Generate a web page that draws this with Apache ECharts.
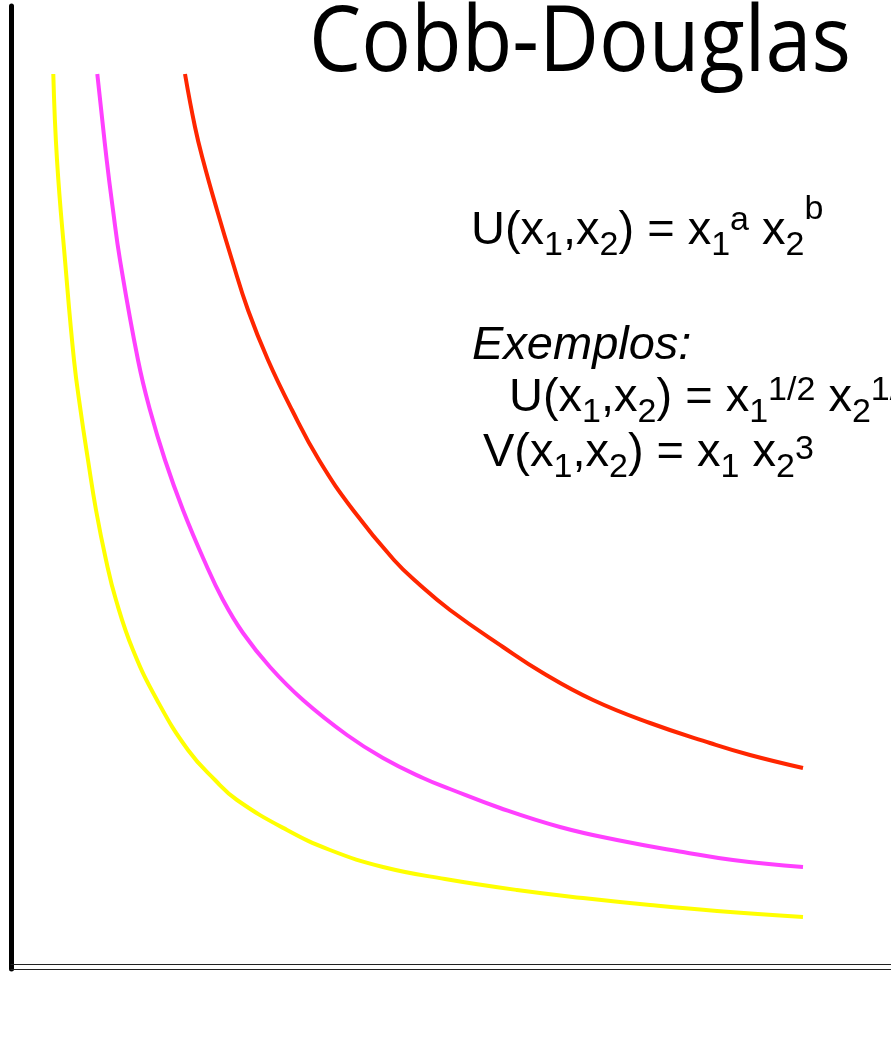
<!DOCTYPE html>
<html>
<head>
<meta charset="utf-8">
<script src="https://cdn.jsdelivr.net/npm/echarts@6/dist/echarts.min.js"></script>
<style>
  html, body { margin: 0; padding: 0; background: #fff; }
  #chart { width: 891px; height: 1058px; }
</style>
</head>
<body>
<div id="chart"></div>
<script>
// Indifference curves (x1, x2) for three utility levels, lowest to highest
const lowCurve = [
  [4.23, 89.5], [4.6, 80.9], [5.4, 70.9], [6.3, 60.9], [6.95, 55.9], [7.7, 50.9],
  [8.5, 45.9], [9.5, 40.9], [10.5, 36.9], [12.2, 31.9], [14.6, 26.9], [17.7, 21.9],
  [20.4, 18.9], [22.6, 16.9], [27.6, 13.9], [31.9, 11.9], [37.2, 10.2], [43.4, 9.0],
  [50.6, 7.9], [57.2, 7.1], [63.9, 6.4], [70.6, 5.8], [79.2, 5.2]
];
const midCurve = [
  [8.63, 89.5], [9.57, 80.9], [10.2, 75.9], [10.9, 70.9], [12.7, 60.9], [13.9, 55.9],
  [15.4, 50.9], [17.2, 45.9], [19.3, 40.9], [21.2, 36.9], [23.2, 33.6], [25.9, 30.2],
  [29.2, 26.9], [33.6, 23.4], [37.2, 21.1], [41.2, 19.1], [43.9, 18.0], [48.9, 16.1],
  [54.9, 14.2], [60.6, 12.9], [67.2, 11.7], [72.2, 10.9], [79.2, 10.2]
];
const highCurve = [
  [17.4, 89.5], [18.4, 84.2], [19.2, 80.9], [20.6, 75.9], [22.1, 70.9], [23.7, 65.9],
  [25.7, 60.9], [28.1, 55.9], [30.8, 50.9], [34.2, 45.9], [38.3, 40.9], [40.9, 38.4],
  [43.9, 35.9], [49.2, 32.2], [53.2, 29.6], [58.2, 26.9], [63.9, 24.6], [69.9, 22.6],
  [73.9, 21.4], [79.2, 20.1]
];

const titleText = 'Cobb-Douglas';
const exampleLabel = 'Exemplos:';
// Formula pieces: n = normal, sub = subscript, sup = superscript (dy = baseline shift)
const generalForm = [
  ['n', 'U(x'], ['sub', '1'], ['n', ',x'], ['sub', '2'], ['n', ') = x'], ['sub', '1'],
  ['sup', 'a', -15], ['n', ' x'], ['sub', '2'], ['sup', 'b', -26]
];
const exampleU = [
  ['n', 'U(x'], ['sub', '1'], ['n', ',x'], ['sub', '2'], ['n', ') = x'], ['sub', '1'],
  ['sup', '1/2', -12], ['n', ' x'], ['sub', '2'], ['sup', '1/2', -12]
];
const exampleV = [
  ['n', 'V(x'], ['sub', '1'], ['n', ',x'], ['sub', '2'], ['n', ') = x'], ['sub', '1'],
  ['n', ' x'], ['sub', '2'], ['sup', '3', -8]
];

const MAIN_FS = 47;
const SMALL_FS = 34;
const SUB_DY = 10;
const FORMULA_FONT = '"Liberation Sans", Arial, sans-serif';
const TITLE_FONT = '"Open Sans", "Noto Sans", sans-serif';

const measureCtx = document.createElement('canvas').getContext('2d');

// distance from alphabetic baseline up to the canvas "middle" baseline
function middleOffset(font, size) {
  measureCtx.font = font;
  measureCtx.textBaseline = 'alphabetic';
  const m = measureCtx.measureText('Hx');
  if (m.fontBoundingBoxAscent !== undefined) {
    return (m.fontBoundingBoxAscent - m.fontBoundingBoxDescent) / 2;
  }
  return 0.35 * size;
}

function textEl(str, x, baseline, size, family, style, scaleX) {
  const font = (style ? style + ' ' : '') + size + 'px ' + family;
  const mid = middleOffset(font, size);
  return {
    type: 'text',
    x: x,
    y: baseline - mid,
    scaleX: scaleX || 1,
    originX: 0,
    originY: 0,
    z: 10,
    style: {
      text: str,
      font: font,
      fill: '#000',
      align: 'left',
      verticalAlign: 'middle'
    }
  };
}

function formula(tokens, x0, baseline) {
  const els = [];
  let x = x0;
  tokens.forEach(function (tk) {
    const kind = tk[0], str = tk[1];
    const size = kind === 'n' ? MAIN_FS : SMALL_FS;
    const dy = kind === 'sub' ? SUB_DY : (kind === 'sup' ? tk[2] : 0);
    els.push(textEl(str, x, baseline + dy, size, FORMULA_FONT, ''));
    measureCtx.font = size + 'px ' + FORMULA_FONT;
    x += measureCtx.measureText(str).width;
  });
  return els;
}

// Title squeezed slightly to the width of the original lettering
const TITLE_FS = 91;
measureCtx.font = TITLE_FS + 'px ' + TITLE_FONT;
const titleScale = 542 / measureCtx.measureText(titleText).width;

const graphics = [].concat(
  [textEl(titleText, 309, 80, TITLE_FS, TITLE_FONT, '', titleScale)],
  formula(generalForm, 471, 248),
  [textEl(exampleLabel, 472, 362, MAIN_FS, FORMULA_FONT, 'italic')],
  formula(exampleU, 509, 415),
  formula(exampleV, 483, 470)
);

const chart = echarts.init(document.getElementById('chart'), null, { renderer: 'canvas' });

const hiddenBits = {
  axisLabel: { show: false },
  axisTick: { show: false },
  splitLine: { show: false }
};

function curve(data, color) {
  return {
    type: 'line',
    data: data,
    smooth: 0.45,
    symbol: 'none',
    lineStyle: { color: color, width: 4 },
    silent: true,
    animation: false
  };
}

chart.setOption({
  backgroundColor: '#fff',
  animation: false,
  grid: { left: 11, right: 0, top: 6, bottom: 89 },
  xAxis: [
    Object.assign({ type: 'value', min: 0, max: 88, axisLine: { show: true, lineStyle: { color: '#222', width: 1 } } }, hiddenBits),
    Object.assign({ type: 'value', min: 0, max: 88, position: 'bottom', offset: -5, axisLine: { show: true, lineStyle: { color: '#222', width: 1 } } }, hiddenBits)
  ],
  yAxis: Object.assign({
    type: 'value', min: 0, max: 96.3,
    axisLine: { show: true, lineStyle: { color: '#000', width: 5 } }
  }, hiddenBits),
  series: [
    curve(lowCurve, '#ffff00'),
    curve(midCurve, '#ff40ff'),
    curve(highCurve, '#ff2600')
  ],
  graphic: graphics
});
</script>
</body>
</html>
